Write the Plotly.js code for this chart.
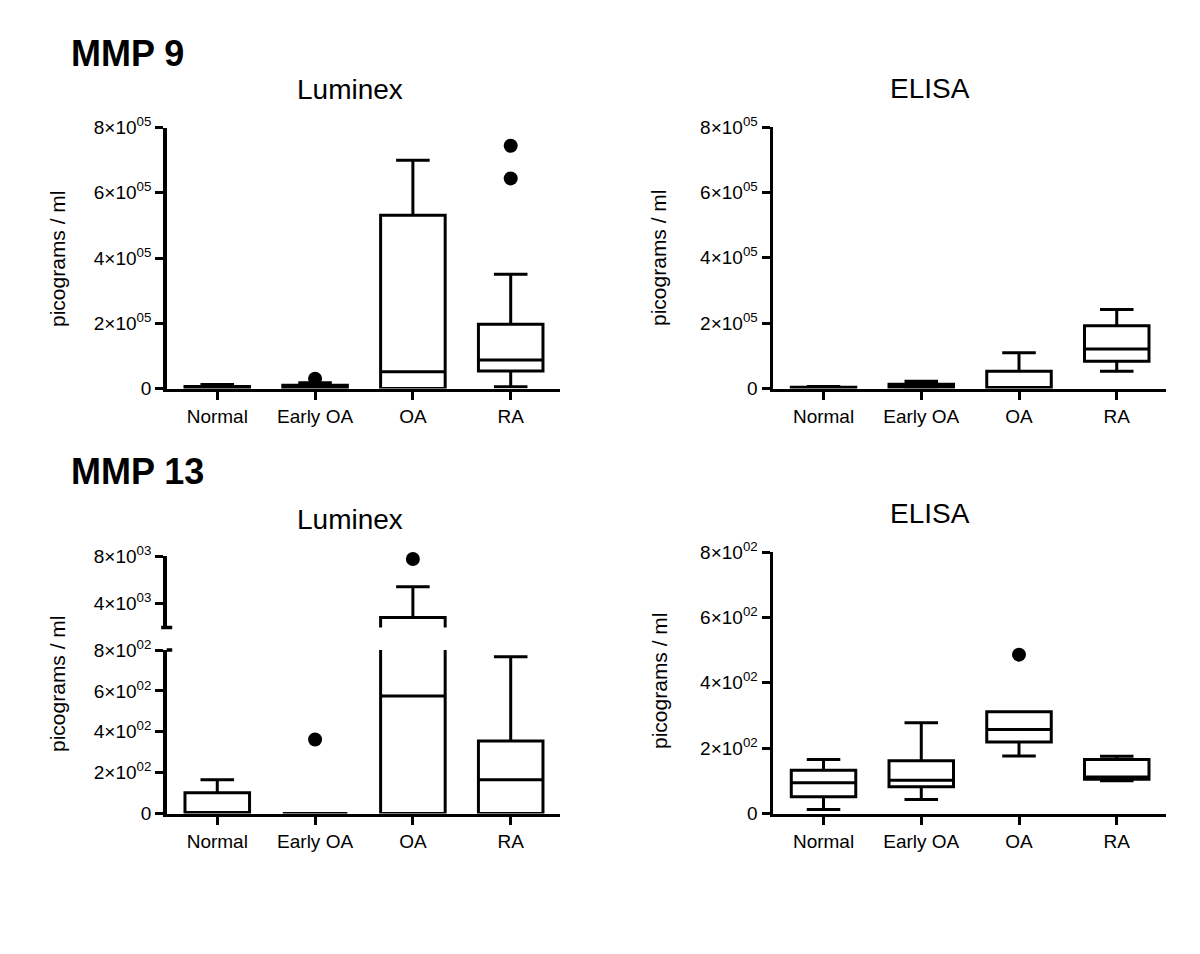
<!DOCTYPE html>
<html>
<head>
<meta charset="utf-8">
<script src="https://cdn.plot.ly/plotly-3.0.1.min.js"></script>
<style>
html,body{margin:0;padding:0;background:#ffffff;}
#chart{width:1200px;height:954px;}
</style>
</head>
<body>
<div id="chart"></div>
<script>
// ---------- DATA ----------
const categories = ['Normal', 'Early OA', 'OA', 'RA'];

// MMP 9 - Luminex (pg/ml)
const mmp9LumMin = [0, 0, 0, 5000];
const mmp9LumQ1  = [1000, 2000, 0, 54000];
const mmp9LumMed = [3000, 5000, 51000, 87000];
const mmp9LumQ3  = [6000, 10000, 531000, 197000];
const mmp9LumMax = [12000, 18000, 700000, 350000];
const mmp9LumOutX = ['Early OA', 'RA', 'RA'];
const mmp9LumOutY = [30000, 744000, 644000];

// MMP 9 - ELISA (pg/ml)
const mmp9EliMin = [0, 2000, 0, 53000];
const mmp9EliQ1  = [1000, 4000, 0, 83000];
const mmp9EliMed = [2000, 8000, 3000, 121000];
const mmp9EliQ3  = [4000, 13000, 53000, 192000];
const mmp9EliMax = [6000, 22000, 109000, 242000];

// MMP 13 - Luminex (pg/ml)
const mmp13LumMin = [0, 0, 0, 0];
const mmp13LumQ1  = [0, 0, 0, 0];
const mmp13LumMed = [0, 0, 575, 165];
const mmp13LumQ3  = [101, 0, 2820, 355];
const mmp13LumMax = [165, 0, 5400, 767];
const mmp13LumOutX = ['Early OA', 'OA'];
const mmp13LumOutY = [362, 7750];

// MMP 13 - ELISA (pg/ml)
const mmp13EliMin = [12, 43, 176, 100];
const mmp13EliQ1  = [51, 82, 219, 105];
const mmp13EliMed = [94, 102, 257, 112];
const mmp13EliQ3  = [132, 161, 311, 165];
const mmp13EliMax = [165, 278, 311, 175];
const mmp13EliOutX = ['OA'];
const mmp13EliOutY = [486];

// tick labels
const ticks9Vals = [0, 200000, 400000, 600000, 800000];
const ticks9Text = ['0', '2×10<sup>05</sup>', '4×10<sup>05</sup>', '6×10<sup>05</sup>', '8×10<sup>05</sup>'];
const ticks13LowVals = [0, 200, 400, 600, 800];
const ticks13LowText = ['0', '2×10<sup>02</sup>', '4×10<sup>02</sup>', '6×10<sup>02</sup>', '8×10<sup>02</sup>'];
const ticks13HighVals = [4000, 8000];
const ticks13HighText = ['4×10<sup>03</sup>', '8×10<sup>03</sup>'];
const breakAt = 800; // values above go on the upper segment of the broken axis

// ---------- STYLE ----------
const FONT = 'Liberation Sans, Arial, Helvetica, sans-serif';
const LW = 3;
const W = 1200, H = 954;
const px = v => v / W;
const py = v => 1 - v / H;

function boxTrace(xa, ya, mn, q1, med, q3, mx) {
  return {
    type: 'box', xaxis: xa, yaxis: ya,
    x: categories, q1: q1, median: med, q3: q3,
    lowerfence: mn, upperfence: mx,
    boxpoints: false, width: 0.66, whiskerwidth: 0.52,
    line: {color: '#000', width: LW}, fillcolor: '#ffffff',
    hoverinfo: 'skip', showlegend: false
  };
}
function outTrace(xa, ya, xs, ys) {
  return {
    type: 'scatter', mode: 'markers', xaxis: xa, yaxis: ya,
    x: xs, y: ys, cliponaxis: false,
    marker: {color: '#000', size: 14},
    hoverinfo: 'skip', showlegend: false
  };
}

const traces = [
  boxTrace('x', 'y', mmp9LumMin, mmp9LumQ1, mmp9LumMed, mmp9LumQ3, mmp9LumMax),
  outTrace('x', 'y', mmp9LumOutX, mmp9LumOutY),
  boxTrace('x2', 'y2', mmp9EliMin, mmp9EliQ1, mmp9EliMed, mmp9EliQ3, mmp9EliMax),
  boxTrace('x3', 'y3', mmp13LumMin, mmp13LumQ1, mmp13LumMed, mmp13LumQ3, mmp13LumMax),
  boxTrace('x3', 'y5', mmp13LumMin, mmp13LumQ1, mmp13LumMed, mmp13LumQ3, mmp13LumMax),
  outTrace('x3', 'y3', mmp13LumOutX.filter((c, i) => mmp13LumOutY[i] <= breakAt), mmp13LumOutY.filter(v => v <= breakAt)),
  outTrace('x3', 'y5', mmp13LumOutX.filter((c, i) => mmp13LumOutY[i] > breakAt), mmp13LumOutY.filter(v => v > breakAt)),
  boxTrace('x4', 'y4', mmp13EliMin, mmp13EliQ1, mmp13EliMed, mmp13EliQ3, mmp13EliMax),
  outTrace('x4', 'y4', mmp13EliOutX, mmp13EliOutY)
];

function xAxis(d0, d1, anchor) {
  return {
    domain: [px(d0), px(d1)], anchor: anchor, type: 'category',
    categoryarray: categories, categoryorder: 'array',
    range: [-0.517, 3.504], fixedrange: true,
    showline: true, linecolor: '#000', linewidth: LW + 0.5,
    ticks: 'outside', ticklen: 8, tickwidth: LW, tickcolor: '#000',
    tickfont: {family: FONT, size: 19, color: '#000'},
    showgrid: false, zeroline: false
  };
}
function yAxis(top, bottom, anchor, range, vals, text) {
  return {
    domain: [py(bottom), py(top)], anchor: anchor, range: range, fixedrange: true,
    showline: true, linecolor: '#000', linewidth: LW + 0.5,
    ticks: 'outside', ticklen: 8, tickwidth: LW, tickcolor: '#000',
    tickmode: 'array', tickvals: vals, ticktext: text,
    tickfont: {family: FONT, size: 19, color: '#000'},
    showgrid: false, zeroline: false
  };
}

function ann(text, x, y, size, opts) {
  return Object.assign({
    text: text, xref: 'paper', yref: 'paper', x: px(x), y: py(y),
    xanchor: 'center', yanchor: 'middle', showarrow: false,
    font: {family: FONT, size: size, color: '#000'}
  }, opts || {});
}

const layout = {
  width: W, height: H,
  margin: {l: 0, r: 0, t: 0, b: 0},
  paper_bgcolor: '#ffffff', plot_bgcolor: 'rgba(0,0,0,0)',
  showlegend: false,
  font: {family: FONT, color: '#000'},
  xaxis: xAxis(166.7, 560, 'y'),
  yaxis: yAxis(127.5, 388.5, 'x', [0, 800000], ticks9Vals, ticks9Text),
  xaxis2: xAxis(773, 1166, 'y2'),
  yaxis2: yAxis(127, 388.5, 'x2', [0, 800000], ticks9Vals, ticks9Text),
  xaxis3: xAxis(166.7, 560, 'y3'),
  yaxis3: yAxis(650, 813.5, 'x3', [0, 800], ticks13LowVals, ticks13LowText),
  yaxis5: yAxis(556, 627.5, 'x3', [1970, 8000], ticks13HighVals, ticks13HighText),
  xaxis4: xAxis(773, 1166, 'y4'),
  yaxis4: yAxis(552, 813.5, 'x4', [0, 800], ticks13LowVals, ticks13LowText),
  shapes: [
    {type: 'line', xref: 'x3 domain', yref: 'y5 domain', x0: -0.014, x1: 0.014, y0: 0, y1: 0,
     line: {color: '#000', width: LW + 0.5}},
    {type: 'line', xref: 'x3 domain', yref: 'y3 domain', x0: 0, x1: 0.014, y0: 1, y1: 1,
     line: {color: '#000', width: LW + 0.5}}
  ],
  annotations: [
    ann('<b>MMP 9</b>', 69, 53, 36, {xanchor: 'left'}),
    ann('<b>MMP 13</b>', 69, 472, 36, {xanchor: 'left'}),
    ann('Luminex', 350, 89, 28),
    ann('ELISA', 930, 88, 28),
    ann('Luminex', 350, 519, 28),
    ann('ELISA', 930, 513, 28),
    ann('picograms / ml', 57, 259, 21, {textangle: -90}),
    ann('picograms / ml', 659, 258, 21, {textangle: -90}),
    ann('picograms / ml', 57, 684, 21, {textangle: -90}),
    ann('picograms / ml', 659, 681, 21, {textangle: -90})
  ]
};

Plotly.newPlot('chart', traces, layout, {staticPlot: true, displayModeBar: false});
</script>
</body>
</html>
